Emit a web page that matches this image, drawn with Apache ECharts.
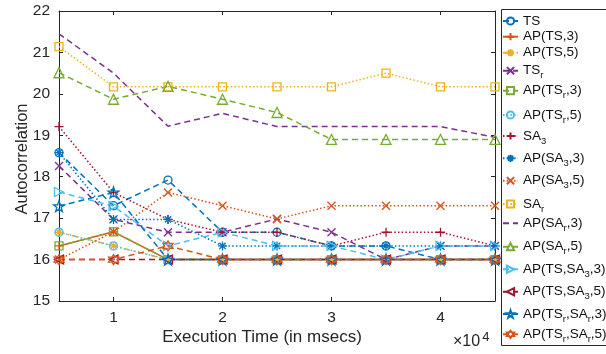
<!DOCTYPE html>
<html>
<head>
<meta charset="utf-8">
<script src="https://cdn.jsdelivr.net/npm/echarts@6/dist/echarts.min.js"></script>
<style>
  html, body { margin: 0; padding: 0; background: #fff; }
  #chart { width: 606px; height: 354px; }
</style>
</head>
<body>
<div id="chart"></div>
<script>
// Execution time samples (msecs)
const execTimes = [5000, 10000, 15000, 20000, 25000, 30000, 35000, 40000, 45000];

// Autocorrelation of each method at each execution time
const ts          = [18.58, 17.30, 17.92, 16.66, 16.66, 16.33, 16.33, 16.00, 16.00];
const apTs3       = [16.33, 16.67, 16.00, 16.00, 16.00, 16.00, 16.00, 16.00, 16.00];
const apTs5       = [16.66, 16.33, 16.00, 16.00, 16.00, 16.00, 16.00, 16.00, 16.00];
const tsR         = [18.26, 16.97, 16.66, 16.66, 16.98, 16.66, 16.00, 16.33, 16.33];
const apTsR3      = [16.33, 16.67, 16.00, 16.00, 16.00, 16.00, 16.00, 16.00, 16.00];
const apTsR5      = [16.66, 16.33, 16.00, 16.00, 16.00, 16.00, 16.00, 16.00, 16.00];
const sa3         = [19.21, 17.62, 16.97, 16.66, 16.66, 16.33, 16.66, 16.66, 16.33];
const apSa3_3     = [18.58, 16.97, 16.97, 16.33, 16.33, 16.33, 16.33, 16.33, 16.33];
const apSa3_5     = [16.00, 16.67, 17.62, 17.30, 16.98, 17.30, 17.30, 17.30, 17.30];
const saR         = [21.14, 20.17, 20.17, 20.17, 20.17, 20.17, 20.50, 20.17, 20.17];
const apSaR3      = [21.45, 20.50, 19.22, 19.53, 19.21, 19.21, 19.21, 19.21, 18.95];
const apSaR5      = [20.51, 19.87, 20.18, 19.87, 19.55, 18.90, 18.90, 18.90, 18.90];
const apTsSa3_3   = [17.63, 17.29, 16.33, 16.66, 16.33, 16.33, 16.00, 16.33, 16.33];
const apTsSa3_5   = [16.00, 16.00, 16.00, 16.00, 16.00, 16.00, 16.00, 16.00, 16.00];
const apTsRSaR3   = [17.29, 17.62, 16.00, 16.00, 16.00, 16.00, 16.00, 16.00, 16.00];
const apTsRSaR5   = [16.00, 16.00, 16.33, 16.00, 16.00, 16.00, 16.00, 16.00, 16.00];

// Axis ticks
const xTickValues = [10000, 20000, 30000, 40000];
const xTickLabels = ['1', '2', '3', '4'];
const yMin = 15, yMax = 22;

// Palette
const C = {
  blue: '#0072BD', orange: '#D95319', yellow: '#EDB120', purple: '#7E2F8E',
  green: '#77AC30', cyan: '#4DBEEE', red: '#A2142F'
};

// Marker shapes (stroked outlines)
const M = {
  circle: 'circle',
  square: 'rect',
  triUp: 'triangle',
  plus: 'path://M10,0L10,20M0,10L20,10',
  cross: 'path://M0,0L20,20M20,0L0,20',
  aster: 'path://M10,0L10,20M0,10L20,10M3,3L17,17M17,3L3,17',
  triRight: 'path://M0,0L20,10L0,20Z',
  triLeft: 'path://M20,0L0,10L20,20Z',
  star: (function () {
    let d = '';
    for (let i = 0; i < 10; i++) {
      const r = i % 2 === 0 ? 10 : 4;
      const a = -Math.PI / 2 + i * Math.PI / 5;
      d += (i === 0 ? 'M' : 'L') + (10 + r * Math.cos(a)).toFixed(2) + ',' + (10 + r * Math.sin(a)).toFixed(2);
    }
    return 'path://' + d + 'Z';
  })(),
  hexa: (function () {
    let d = '';
    for (let i = 0; i < 12; i++) {
      const r = i % 2 === 0 ? 10 : 5.8;
      const a = -Math.PI / 2 + i * Math.PI / 6;
      d += (i === 0 ? 'M' : 'L') + (10 + r * Math.cos(a)).toFixed(2) + ',' + (10 + r * Math.sin(a)).toFixed(2);
    }
    return 'path://' + d + 'Z';
  })()
};

const DASH = [6, 4], DOT = [1.5, 2.2], DASHDOT = [6, 3, 1.5, 3];

// name, values, colour, line type, marker, marker size
const defs = [
  ['TS',               ts,        C.blue,   DASH,    M.circle,   8],
  ['AP(TS,3)',         apTs3,     C.orange, 'solid', M.plus,     9],
  ['AP(TS,5)',         apTs5,     C.yellow, DASHDOT, M.aster,    9],
  ['TS_r',             tsR,       C.purple, DASH,    M.cross,    8],
  ['AP(TS_r,3)',       apTsR3,    C.green,  DASH,    M.square,   8],
  ['AP(TS_r,5)',       apTsR5,    C.cyan,   DOT,     M.circle,   8],
  ['SA_3',             sa3,       C.red,    DOT,     M.plus,     9],
  ['AP(SA_3,3)',       apSa3_3,   C.blue,   DOT,     M.aster,    9],
  ['AP(SA_3,5)',       apSa3_5,   C.orange, DOT,     M.cross,    8],
  ['SA_r',             saR,       C.yellow, DOT,     M.square,   8],
  ['AP(SA_r,3)',       apSaR3,    C.purple, DASH,    'none',     0],
  ['AP(SA_r,5)',       apSaR5,    C.green,  DASH,    M.triUp,    10],
  ['AP(TS,SA_3,3)',    apTsSa3_3, C.cyan,   DASH,    M.triRight, 9],
  ['AP(TS,SA_3,5)',    apTsSa3_5, C.red,    DASH,    M.triLeft,  9],
  ['AP(TS_r,SA_r,3)',  apTsRSaR3, C.blue,   DASH,    M.star,     11],
  ['AP(TS_r,SA_r,5)',  apTsRSaR5, C.orange, DASH,    M.hexa,     10]
];

const series = defs.map(function (d) {
  return {
    name: d[0],
    type: 'line',
    xAxisIndex: 0,
    yAxisIndex: 0,
    data: execTimes.map(function (x, i) { return [x, d[1][i]]; }),
    symbol: d[4],
    symbolSize: d[5],
    showSymbol: d[4] !== 'none',
    lineStyle: { color: d[2], width: 1.5, type: d[3] },
    itemStyle: { color: 'rgba(0,0,0,0)', borderColor: d[2], borderWidth: 1.3 },
    emphasis: { disabled: true },
    animation: false
  };
});

// Legend rows: vertical centres of each entry
const legendRowCenters = [21, 36.7, 52.7, 70.7, 90.7, 115, 136, 158.3, 180.7, 204, 223.3, 246.7, 269.3, 291.7, 314, 334.3];

const legends = defs.map(function (d, i) {
  const item = { name: d[0] };
  if (d[4] === 'none') {
    // line-only entry
    item.itemStyle = { color: 'rgba(0,0,0,0)', borderColor: 'rgba(0,0,0,0)' };
  }
  return {
    data: [item],
    left: 502,
    top: legendRowCenters[i] - 10,
    orient: 'vertical',
    padding: 0,
    itemWidth: 15,
    itemHeight: 9,
    selectedMode: false,
    formatter: function (name) { return name.replace(/_(\w)/g, '{s|$1}'); },
    textStyle: {
      fontFamily: 'Liberation Sans, Arial, sans-serif',
      fontSize: 13.5,
      color: '#111',
      lineHeight: 20,
      rich: {
        s: { fontSize: 9.5, verticalAlign: 'bottom', fontFamily: 'Liberation Sans, Arial, sans-serif', color: '#111' }
      }
    }
  };
});

const axisColor = '#262626';
const fontFam = 'Liberation Sans, Arial, sans-serif';

const chart = echarts.init(document.getElementById('chart'), null, { renderer: 'canvas' });
chart.setOption({
  animation: false,
  backgroundColor: '#fff',
  grid: { left: 59, right: 111, top: 11, bottom: 53, containLabel: false },
  legend: legends,
  xAxis: [
    {
      type: 'value', min: 5000, max: 45000, position: 'bottom',
      axisLine: { show: true, lineStyle: { color: axisColor, width: 1 } },
      axisTick: { show: true, inside: true, length: 4, customValues: xTickValues, lineStyle: { color: axisColor } },
      axisLabel: {
        show: true, customValues: xTickValues, margin: 9,
        formatter: function (v) { return xTickLabels[xTickValues.indexOf(v)]; },
        color: axisColor, fontSize: 15.5, fontFamily: fontFam
      },
      splitLine: { show: false }
    },
    {
      type: 'value', min: 5000, max: 45000, position: 'top',
      axisLine: { show: true, lineStyle: { color: axisColor, width: 1 } },
      axisTick: { show: true, inside: true, length: 4, customValues: xTickValues, lineStyle: { color: axisColor } },
      axisLabel: { show: false },
      splitLine: { show: false }
    }
  ],
  yAxis: [
    {
      type: 'value', min: yMin, max: yMax, interval: 1, position: 'left',
      axisLine: { show: true, lineStyle: { color: axisColor, width: 1 } },
      axisTick: { show: true, inside: true, length: 4, lineStyle: { color: axisColor } },
      axisLabel: { show: true, margin: 9, color: axisColor, fontSize: 15.5, fontFamily: fontFam },
      splitLine: { show: false }
    },
    {
      type: 'value', min: yMin, max: yMax, interval: 1, position: 'right',
      axisLine: { show: true, lineStyle: { color: axisColor, width: 1 } },
      axisTick: { show: true, inside: true, length: 4, lineStyle: { color: axisColor } },
      axisLabel: { show: false },
      splitLine: { show: false }
    }
  ],
  series: series,
  graphic: [
    {
      type: 'rect', silent: true, z: 0,
      shape: { x: 501.5, y: 9.5, width: 140, height: 336 },
      style: { fill: '#fff', stroke: axisColor, lineWidth: 1 }
    },
    {
      type: 'text', silent: true,
      x: 22, y: 159, rotation: Math.PI / 2,
      style: { text: 'Autocorrelation', fontSize: 16.5, fontFamily: fontFam, fill: axisColor, align: 'center', verticalAlign: 'middle' }
    },
    {
      type: 'text', silent: true,
      x: 262, y: 337,
      style: { text: 'Execution Time (in msecs)', fontSize: 17, fontFamily: fontFam, fill: axisColor, align: 'center', verticalAlign: 'middle' }
    },
    {
      type: 'text', silent: true,
      x: 453, y: 342,
      style: {
        text: '×10{sup|4}', fontSize: 16, fontFamily: fontFam, fill: axisColor, align: 'left', verticalAlign: 'middle',
        rich: { sup: { fontSize: 13, fontFamily: fontFam, fill: axisColor, verticalAlign: 'top', padding: [0, 0, 10, 2] } }
      }
    }
  ]
});
</script>
</body>
</html>
